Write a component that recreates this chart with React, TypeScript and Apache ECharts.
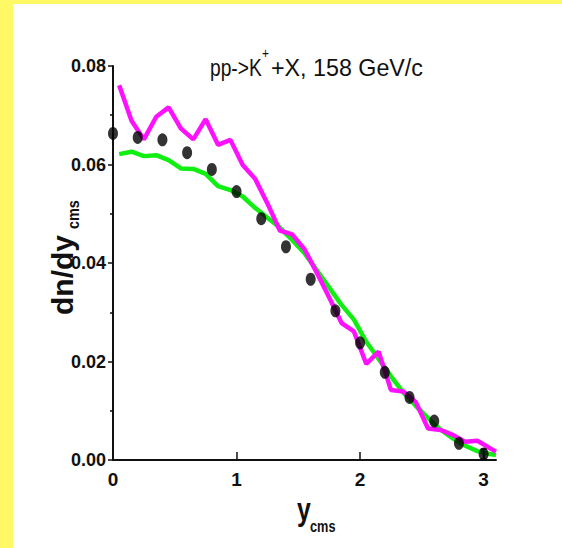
import { useEffect, useRef } from "react";
import * as echarts from "echarts";

// Measured K+ rapidity distribution (points)
const rapidity = [0, 0.2, 0.4, 0.6, 0.8, 1.0, 1.2, 1.4, 1.6, 1.8, 2.0, 2.2, 2.4, 2.6, 2.8, 3.0];
const measured = [0.0663, 0.0655, 0.065, 0.0624, 0.059, 0.0545, 0.049, 0.0433, 0.0367, 0.0303, 0.0238, 0.0178, 0.0127, 0.0079, 0.0034, 0.0012];

// Error bar shown on the last point
const errorX = [3.0];
const errorLow = [0.0002];
const errorHigh = [0.0022];

// Model curves sampled at bin centres
const modelY = [0.05, 0.15, 0.25, 0.35, 0.45, 0.55, 0.65, 0.75, 0.85, 0.95, 1.05, 1.15, 1.25, 1.35, 1.45, 1.55, 1.65, 1.75, 1.85, 1.95, 2.05, 2.15, 2.25, 2.35, 2.45, 2.55, 2.65, 2.75, 2.85, 2.95, 3.05, 3.1];
const greenModel = [0.0621, 0.0626, 0.0617, 0.0619, 0.0609, 0.0592, 0.0591, 0.0581, 0.0556, 0.0548, 0.0535, 0.0512, 0.0492, 0.0472, 0.0447, 0.042, 0.0385, 0.035, 0.0315, 0.0285, 0.024, 0.0205, 0.017, 0.0137, 0.011, 0.0085, 0.0062, 0.0044, 0.0029, 0.0018, 0.0012, 0.001];
const magentaModel = [0.0761, 0.0689, 0.0651, 0.0697, 0.0716, 0.0673, 0.0651, 0.0692, 0.064, 0.065, 0.0599, 0.0571, 0.0521, 0.0466, 0.0458, 0.0428, 0.038, 0.033, 0.0278, 0.0261, 0.0195, 0.022, 0.0142, 0.0139, 0.0118, 0.0064, 0.0061, 0.0051, 0.0037, 0.0039, 0.0024, 0.0017];

// Axis ticks
const xTicks = [0, 1, 2, 3];
const yTicks = [0, 0.02, 0.04, 0.06, 0.08];

const SANS = "'Liberation Sans', Arial, sans-serif";
const INK = "#111";
const YELLOW = "#fff965";

export default function App() {
  const ref = useRef<HTMLDivElement>(null);

  useEffect(() => {
    const chart = echarts.init(ref.current!, null, { renderer: "svg" });
    chart.setOption({
      animation: false,
      backgroundColor: "#ffffff",
      grid: { left: 113, right: 66, top: 66, bottom: 88, containLabel: false },
      xAxis: {
        type: "value",
        min: 0,
        max: 3.1,
        interval: 1,
        splitLine: { show: false },
        axisLine: { onZero: false, lineStyle: { color: INK, width: 2 } },
        axisTick: { inside: true, length: 8, customValues: xTicks, lineStyle: { color: INK, width: 1.5 } },
        axisLabel: {
          customValues: xTicks,
          formatter: (v: number) => String(v),
          margin: 10,
          color: INK,
          fontFamily: SANS,
          fontWeight: "bold",
          fontSize: 19,
        },
      },
      yAxis: {
        type: "value",
        min: 0,
        max: 0.08,
        interval: 0.02,
        splitLine: { show: false },
        axisLine: { onZero: false, lineStyle: { color: INK, width: 2 } },
        axisTick: { inside: false, length: 5, customValues: yTicks, lineStyle: { color: INK, width: 1.5 } },
        minorTick: { show: true, splitNumber: 2, length: 3, lineStyle: { color: INK, width: 1.5 } },
        axisLabel: {
          customValues: yTicks,
          formatter: (v: number) => v.toFixed(2),
          margin: 7,
          color: INK,
          fontFamily: SANS,
          fontWeight: "bold",
          fontSize: 18,
        },
      },
      series: [
        {
          type: "line",
          data: modelY.map((x, i) => [x, greenModel[i]]),
          showSymbol: false,
          lineStyle: { color: "#11ee11", width: 4.5 },
          z: 2,
        },
        {
          type: "line",
          data: modelY.map((x, i) => [x, magentaModel[i]]),
          showSymbol: false,
          lineStyle: { color: "#ff11ff", width: 4.5 },
          z: 3,
        },
        {
          type: "scatter",
          data: rapidity.map((x, i) => [x, measured[i]]),
          symbol: "circle",
          symbolSize: [10, 13],
          itemStyle: { color: "#000" },
          z: 4,
        },
        {
          type: "custom",
          data: errorX.map((x, i) => [x, errorLow[i], errorHigh[i]]),
          z: 5,
          renderItem: (_params: any, api: any) => {
            const lo = api.coord([api.value(0), api.value(1)]);
            const hi = api.coord([api.value(0), api.value(2)]);
            const stroke = { stroke: "#000", lineWidth: 1.5 };
            return {
              type: "group",
              children: [
                { type: "line", shape: { x1: lo[0], y1: lo[1], x2: hi[0], y2: hi[1] }, style: stroke },
                { type: "line", shape: { x1: lo[0] - 3, y1: lo[1], x2: lo[0] + 3, y2: lo[1] }, style: stroke },
                { type: "line", shape: { x1: hi[0] - 3, y1: hi[1], x2: hi[0] + 3, y2: hi[1] }, style: stroke },
              ],
            };
          },
        },
      ],
      graphic: [
        { type: "rect", left: 0, top: 0, shape: { width: 13, height: 548 }, style: { fill: YELLOW }, z: 10 },
        { type: "rect", left: 0, top: 0, shape: { width: 562, height: 4 }, style: { fill: YELLOW }, z: 10 },
        // Reaction label: pp->K⁺+X, 158 GeV/c
        {
          type: "text",
          x: 210,
          y: 68,
          scaleX: 0.8,
          style: { text: "pp->K", fontFamily: SANS, fontSize: 24, fill: INK, align: "left", verticalAlign: "middle" },
        },
        {
          type: "text",
          x: 262,
          y: 53,
          scaleX: 0.85,
          style: { text: "+", fontFamily: SANS, fontSize: 14, fill: INK, align: "left", verticalAlign: "middle" },
        },
        {
          type: "text",
          x: 271,
          y: 68,
          scaleX: 0.97,
          style: { text: "+X, 158 GeV/c", fontFamily: SANS, fontSize: 24, fill: INK, align: "left", verticalAlign: "middle" },
        },
        {
          type: "group",
          x: 62,
          y: 315,
          rotation: Math.PI / 2,
          children: [
            {
              type: "text",
              x: 0,
              y: 0,
              style: { text: "dn/dy", fontFamily: SANS, fontWeight: "bold", fontSize: 30, fill: INK, align: "left", verticalAlign: "middle" },
            },
            {
              type: "text",
              x: 86,
              y: 11,
              scaleX: 0.85,
              style: { text: "cms", fontFamily: SANS, fontWeight: "bold", fontSize: 17, fill: INK, align: "left", verticalAlign: "middle" },
            },
          ],
        },
        {
          type: "text",
          x: 297,
          y: 510,
          scaleX: 0.8,
          style: { text: "y", fontFamily: SANS, fontWeight: "bold", fontSize: 31, fill: INK, align: "left", verticalAlign: "middle" },
        },
        {
          type: "text",
          x: 310,
          y: 526,
          scaleX: 0.75,
          style: { text: "cms", fontFamily: SANS, fontWeight: "bold", fontSize: 17, fill: INK, align: "left", verticalAlign: "middle" },
        },
      ],
    });
    return () => chart.dispose();
  }, []);

  return (
    <div
      ref={ref}
      style={{ position: "fixed", left: 0, top: 0, width: 562, height: 548, background: "#ffffff" }}
    />
  );
}
